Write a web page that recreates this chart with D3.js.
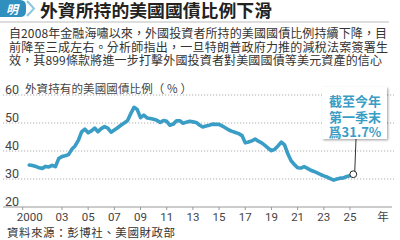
<!DOCTYPE html>
<html>
<head>
<meta charset="utf-8">
<script src="https://cdn.jsdelivr.net/npm/d3@7"></script>
<style>
  html, body { margin: 0; padding: 0; background: #fff; }
  svg { display: block; font-family: "Noto Sans CJK TC", "Noto Sans", sans-serif; }
</style>
</head>
<body>
<div id="chart"></div>
<script>
// 外資持有美國國債比例（%），季末數據，由 2000 年第二季至 2025 年第一季
var startYear = 2000.5;
var shares = [
  35.0, 34.8, 34.5,
  34.0, 33.8, 34.5, 34.3,
  34.9, 34.4, 37.3, 38.0,
  38.3, 38.7, 40.6, 41.8,
  43.8, 46.8, 47.8, 46.5,
  47.2, 48.2, 46.9, 48.0,
  48.7, 48.2, 46.7, 47.5,
  48.3, 49.2, 50.0, 50.8,
  53.3, 55.6, 54.8, 51.9,
  52.8, 51.8, 51.6, 51.3,
  51.0, 50.2, 50.9, 50.6,
  49.2, 49.6, 50.8, 50.8,
  49.9, 50.3, 50.6, 50.4,
  50.2, 49.3, 48.6, 48.9,
  49.2, 49.6, 49.5, 49.5,
  48.9, 48.2, 47.5, 47.0,
  46.6, 46.2, 45.5, 42.9,
  43.2, 43.6, 44.3, 43.5,
  42.9, 42.0, 41.0, 40.1,
  40.6, 41.8, 43.2, 42.2,
  39.0, 36.5, 35.2, 34.0,
  33.9, 34.4, 33.8, 33.1,
  32.7, 32.2, 31.6, 31.1,
  30.7, 30.1, 29.6, 30.0,
  30.3, 30.4, 30.9, 31.2,
  31.7
];
var yTicks = [20, 30, 40, 50, 60];
var xTicks = [2000, 2003, 2005, 2007, 2009, 2011, 2013, 2015, 2017, 2019, 2021, 2023, 2025];
var xTickLabels = ["2000", "03", "05", "07", "09", "11", "13", "15", "17", "19", "21", "23", "25"];

var title = "外資所持的美國國債比例下滑";
var intro = [
  "自2008年金融海嘯以來，外國投資者所持的美國國債比例持續下降，目",
  "前降至三成左右。分析師指出，一旦特朗普政府力推的減稅法案簽署生",
  "效，其899條款將進一步打擊外國投資者對美國國債等美元資產的信心"
];
var chartLabel = "外資持有的美國國債比例（ % ）";
var note = ["截至今年", "第一季末", "爲31.7%"];
var source = "資料來源：彭博社、美國財政部";

var width = 400, height = 240;
var blue = "#3a9dc5";

var data = shares.map(function(v, i) {
  return { t: startYear + i * 0.25, v: v };
});

var svg = d3.select("#chart").append("svg")
  .attr("width", width)
  .attr("height", height);

// 標題區
var logo = svg.append("g");
logo.append("path")
  .attr("d", "M0,0 H20 Q26,0 26,6 V11 Q26,17 20,17 H0 Z")
  .attr("fill", "#2f8fbf");
logo.append("text")
  .attr("x", 12).attr("y", 13.5)
  .attr("text-anchor", "middle")
  .attr("font-size", 12).attr("font-weight", "bold")
  .attr("fill", "#fff")
  .attr("font-style", "italic")
  .text("明");
logo.append("path")
  .attr("d", "M27,1 L34,8.5 L27,16")
  .attr("fill", "none")
  .attr("stroke", "#8cc6df")
  .attr("stroke-width", 2);

svg.append("text")
  .attr("x", 40).attr("y", 17)
  .attr("font-size", 17.5).attr("font-weight", "bold")
  .attr("fill", "#222")
  .attr("textLength", 232).attr("lengthAdjust", "spacingAndGlyphs")
  .text(title);

svg.append("line")
  .attr("x1", 0).attr("x2", 389)
  .attr("y1", 22).attr("y2", 22)
  .attr("stroke", "#bbb").attr("stroke-width", 1);

var introLens = [378, 379, 373];
svg.append("g").selectAll("text")
  .data(intro)
  .join("text")
  .attr("x", 9)
  .attr("y", (d, i) => 38 + i * 13.6)
  .attr("font-size", 12)
  .attr("fill", "#333")
  .attr("textLength", (d, i) => introLens[i])
  .attr("lengthAdjust", "spacing")
  .text(d => d);

// 比例尺
var x = d3.scaleLinear().domain([2000, 2025]).range([22.7, 350]);
var y = d3.scaleLinear().domain([20, 60]).range([207, 95]);

// 網格線
svg.append("g").selectAll("line")
  .data(yTicks.filter(d => d > 20))
  .join("line")
  .attr("x1", 3).attr("x2", 394)
  .attr("y1", d => y(d)).attr("y2", d => y(d))
  .attr("stroke", "#999")
  .attr("stroke-width", 0.8)
  .attr("stroke-dasharray", "1.2,1.8");

svg.append("g").selectAll("text")
  .data(yTicks)
  .join("text")
  .attr("x", 5)
  .attr("y", d => y(d) - 1.5)
  .attr("font-size", 12.5)
  .attr("fill", "#444")
  .attr("font-family", "Roboto, 'Noto Sans', sans-serif")
  .text(d => d);

svg.append("text")
  .attr("x", 25).attr("y", 92.5)
  .attr("font-size", 11.5)
  .attr("fill", "#444")
  .attr("textLength", 167).attr("lengthAdjust", "spacing")
  .text(chartLabel);

// X 軸
var xAxis = svg.append("g");
xAxis.append("line")
  .attr("x1", 3).attr("x2", 392)
  .attr("y1", y(20)).attr("y2", y(20))
  .attr("stroke", "#999").attr("stroke-width", 1);
xAxis.selectAll(".tick")
  .data(xTicks)
  .join("line")
  .attr("class", "tick")
  .attr("x1", d => x(d)).attr("x2", d => x(d))
  .attr("y1", y(20)).attr("y2", y(20) + 3)
  .attr("stroke", "#999").attr("stroke-width", 1);
xAxis.selectAll("text")
  .data(xTicks)
  .join("text")
  .attr("x", (d, i) => x(d) + (i === 0 ? 7 : 0))
  .attr("y", 221)
  .attr("text-anchor", "middle")
  .attr("font-size", 11.5)
  .attr("fill", "#444")
  .attr("font-family", "Roboto, 'Noto Sans', sans-serif")
  .text((d, i) => xTickLabels[i]);
svg.append("text")
  .attr("x", 383).attr("y", 221)
  .attr("text-anchor", "middle")
  .attr("font-size", 11.5)
  .attr("fill", "#444")
  .text("年");

// 折線
var line = d3.line()
  .x(d => x(d.t))
  .y(d => y(d.v));

svg.append("path")
  .datum(data)
  .attr("d", line)
  .attr("fill", "none")
  .attr("stroke", blue)
  .attr("stroke-width", 3.6)
  .attr("stroke-linejoin", "round")
  .attr("stroke-linecap", "round");

// 註解
var last = data[data.length - 1];
svg.append("line")
  .attr("x1", 356).attr("y1", 139)
  .attr("x2", x(last.t) + 1.5).attr("y2", y(last.v) - 3)
  .attr("stroke", "#333").attr("stroke-width", 1);
svg.append("circle")
  .attr("cx", x(last.t)).attr("cy", y(last.v))
  .attr("r", 3.4)
  .attr("fill", "#fff")
  .attr("stroke", "#222")
  .attr("stroke-width", 1);

var defs = svg.append("defs");
var f = defs.append("filter").attr("id", "shadow")
  .attr("x", "-20%").attr("y", "-20%").attr("width", "140%").attr("height", "140%");
f.append("feDropShadow")
  .attr("dx", 1.2).attr("dy", 1.2).attr("stdDeviation", 1)
  .attr("flood-color", "#000").attr("flood-opacity", 0.35);

svg.append("rect")
  .attr("x", 322).attr("y", 87)
  .attr("width", 65).attr("height", 52)
  .attr("fill", "#fff")
  .attr("filter", "url(#shadow)");

svg.append("g").selectAll("text")
  .data(note)
  .join("text")
  .attr("x", 355)
  .attr("y", (d, i) => 106 + i * 15.5)
  .attr("text-anchor", "middle")
  .attr("font-size", 13)
  .attr("font-weight", "bold")
  .attr("fill", blue)
  .text(d => d);

// 資料來源
svg.append("text")
  .attr("x", 7).attr("y", 237)
  .attr("font-size", 11.5)
  .attr("fill", "#333")
  .attr("textLength", 168).attr("lengthAdjust", "spacing")
  .text(source);
</script>
</body>
</html>
